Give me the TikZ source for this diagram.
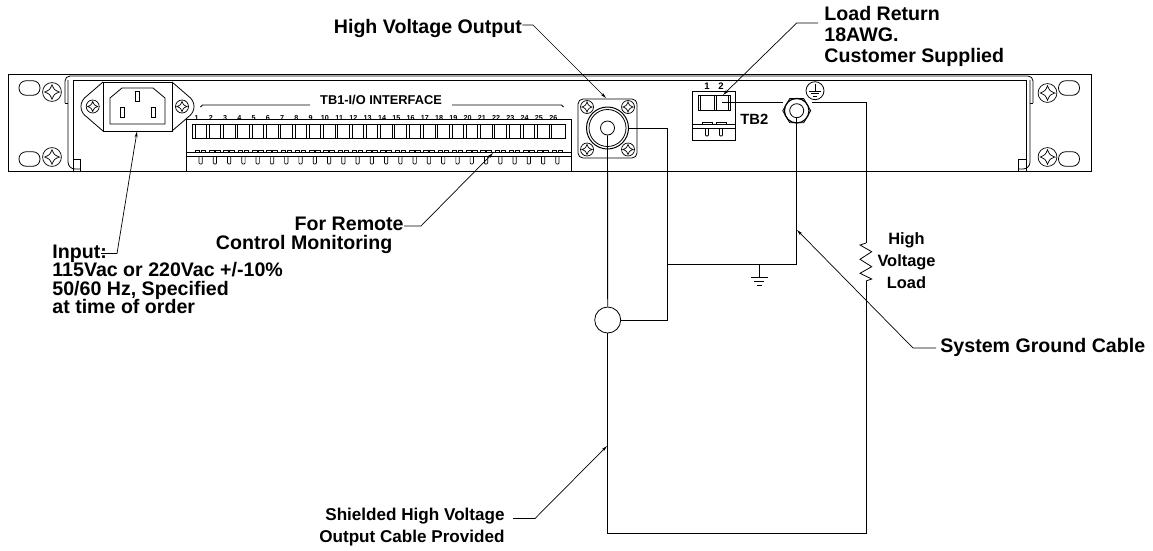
\documentclass[tikz,border=0pt]{standalone}
\usepackage{fontspec}
\setmainfont{Liberation Sans}
\usetikzlibrary{arrows.meta, positioning}

\tikzset{
    calloutText/.style={font=\fontsize{19.6}{21}\selectfont\bfseries, inner sep=0pt, align=left},
    wire/.style={line width=0.9pt},
    leader/.style={line width=0.7pt},
    screwhead/.pic={
        \draw[line width=0.7pt] (0,0) circle (6.5);
        \draw[line width=0.7pt] (5,0) .. controls (1.5,1.5) .. (0,5) .. controls (-1.5,1.5) .. (-5,0)
            .. controls (-1.5,-1.5) .. (0,-5) .. controls (1.5,-1.5) .. cycle;
    }
}

\begin{document}
\begin{tikzpicture}[x=1pt, y=-1pt, line width=0.8pt, >={Stealth[length=6pt,width=3pt]}]
    \useasboundingbox (0,0) rectangle (1153,550);

    % Rack panel and handles
    \draw[line width=1pt] (8,74.5) rectangle (1091,171.5);
    \draw[rounded corners=5pt] (65,103) -- (65,76) -- (1033,76) -- (1033,103);
    \draw (65,103) -- (68,103);
    \draw (1033,103) -- (1030,103);
    \draw (73,171) -- (73,80) -- (1026,80) -- (1026,171);
    \draw[rounded corners=7pt] (68,80) -- (68,169) -- (80,169);
    \draw[rounded corners=7pt] (1030,80) -- (1030,169) -- (1018,169);
    \draw (73,159) -- (80,159) -- (80,171);
    \draw (1026,159) -- (1018,159) -- (1018,171);

    % Mounting holes and screws
    \foreach \holeName/\holeX/\holeY in {holeA/29.5/88, holeB/29.5/159, holeC/1069/88, holeD/1069/159}
        \node (\holeName) [draw, rectangle, rounded corners=7pt, minimum width=21pt, minimum height=14.5pt, inner sep=0pt] at (\holeX,\holeY) {};
    \foreach \screwX/\screwY in {52/92, 52/157, 1047.5/93, 1047.5/157}
        \pic[scale=1.45] at (\screwX,\screwY) {screwhead};

    % Power inlet
    \draw (103,82) rectangle (172,131);
    \draw[rounded corners=5pt] (103,82) -- (81,101) -- (81,112) -- (103,131);
    \draw[rounded corners=5pt] (172,82) -- (194,101) -- (194,112) -- (172,131);
    \draw (110,124) -- (110,98) -- (122,88) -- (153,88) -- (165,98) -- (165,124) -- cycle;
    \draw (135,91) rectangle (139,101);
    \draw (120,107) rectangle (124,117);
    \draw (151,107) rectangle (155,117);
    \pic at (92.7,106.5) {screwhead};
    \pic at (182,106.5) {screwhead};
    \coordinate (inletBottom) at (137,131.5);

    % TB1 terminal block
    \draw (186.7,171) -- (186.7,119.5) -- (571,119.5) -- (571,171);
    \draw (186.7,152) -- (571,152);
    \draw (186.7,156) -- (571,156);
    \draw (192,124) rectangle (565,138);
    \foreach \i [evaluate=\i as \cellX using 192.3+14.27*\i, evaluate=\i as \labelNum using int(\i+1)] in {0,...,25} {
        \draw[line width=0.7pt] (\cellX,124) -- (\cellX,138);
        \draw[line width=0.7pt] (\cellX+2.7,124) -- (\cellX+2.7,138);
        \draw[line width=0.7pt] (\cellX+3,152) -- (\cellX+3,150.3) -- (\cellX+7.5,150.3) -- (\cellX+7.5,152);
        \draw[line width=0.7pt] (\cellX+9,152) -- (\cellX+9,150.3) -- (\cellX+13.5,150.3) -- (\cellX+13.5,152);
        \draw[line width=0.7pt, rounded corners=1pt] (\cellX+6.7,156) -- (\cellX+6.7,164) -- (\cellX+10,164) -- (\cellX+10,156);
        \node (tbNum\labelNum) [font=\fontsize{7.2}{8}\selectfont\bfseries, inner sep=0.5pt] at (196.5+14.27*\i,118) {\labelNum};
    }
    \node (tbOneTitle) [font=\fontsize{12.8}{14}\selectfont\bfseries, inner sep=0pt] at (381,100) {TB1-I/O INTERFACE};
    \draw (200.5,107) -- (202.5,105) -- (310,105);
    \draw (452,105) -- (561.5,105) -- (563.5,107);

    % High voltage connector
    \draw[rounded corners=5pt] (578,99) rectangle (637,158);
    \node (bncCenter) [draw, circle, minimum size=14pt, inner sep=0pt] at (607.5,128) {};
    \node (bncRing) [draw, circle, line width=1pt, minimum size=42pt, inner sep=0pt] at (607.5,128) {};
    \draw (607.5,128) circle (18.5);
    \foreach \screwX/\screwY in {587/107, 628/107, 587/149.5, 628/149.5}
        \pic at (\screwX,\screwY) {screwhead};

    % TB2 terminal block
    \draw (692.7,91) rectangle (735.7,140.7);
    \draw (698,95.7) rectangle (730.7,110);
    \foreach \cellX in {700.7, 714, 716.7, 728}
        \draw (\cellX,95.7) -- (\cellX,110);
    \draw (692.7,124) -- (735.7,124);
    \draw (692.7,128.3) -- (735.7,128.3);
    \draw (702,124) -- (702,122) -- (712,122) -- (712,124);
    \draw (716,124) -- (716,122) -- (726,122) -- (726,124);
    \draw[rounded corners=1pt] (705.5,128.3) -- (705.5,136) -- (708.5,136) -- (708.5,128.3);
    \draw[rounded corners=1pt] (719.5,128.3) -- (719.5,136) -- (722.5,136) -- (722.5,128.3);
    \node (tbTwoA) [font=\fontsize{9.5}{10}\selectfont\bfseries, inner sep=0pt] at (707,86) {1};
    \node (tbTwoB) [font=\fontsize{9.5}{10}\selectfont\bfseries, inner sep=0pt] at (721,86) {2};
    \node (tbTwoName) [font=\fontsize{14.8}{16}\selectfont\bfseries, inner sep=0pt, anchor=west] at (740,119) {TB2};
    \coordinate (tbTwoWire) at (722,102.7);

    % Ground stud and earth mark
    \node (stud) [draw, circle, minimum size=14pt, inner sep=0pt] at (796.7,110.7) {};
    \draw[line width=1.2pt] (796.7,110.7) circle (12.3);
    \draw (810.7,110.7) -- (803.7,98.6) -- (789.7,98.6) -- (782.7,110.7) -- (789.7,122.8) -- (803.7,122.8) -- cycle;
    \node (earthMark) [draw, circle, minimum size=18pt, inner sep=0pt] at (815,90.7) {};
    \draw (815,84) -- (815,91);
    \draw (809,91) -- (821,91);
    \draw (811,93.5) -- (819,93.5);
    \draw (813,96) -- (817,96);

    % Coordinates for the wiring
    \coordinate (loadTop) at (866,102.7);
    \coordinate (resTop) at (866,243);
    \coordinate (resBot) at (866,281);
    \coordinate (shieldDrop) at (667,128);
    \coordinate (groundJoin) at (667,264.3);
    \coordinate (groundDrop) at (759.3,264.3);
    \coordinate (groundEnd) at (759.3,277);
    \coordinate (cableBottom) at (607.7,533);
    \node (teeRing) [draw, circle, minimum size=26pt, inner sep=0pt] at (607.7,320) {};

    % Wiring
    \draw[wire] (bncCenter.south) -- (teeRing.north);
    \draw[wire] (teeRing.south) -- (cableBottom) -| (resBot);
    \draw[wire] (bncRing.east) -- (shieldDrop) -- (groundJoin);
    \draw[wire] (teeRing.east) -| (groundJoin);
    \draw[wire] (groundJoin) -- (groundDrop);
    \draw[wire] (groundDrop) -- (groundEnd);
    \draw[wire] (groundDrop) -| (stud.south);
    \draw[wire] (tbTwoWire) -- (783.4,102.7);
    \draw[wire] (812,102.7) -- (loadTop) -- (resTop);
    \draw (resTop) -- (860,245) -- (871.7,251.7) -- (860,259.3) -- (871.7,266.7) -- (860,273.3) -- (871.7,279) -- (resBot);

    % Earth symbol below the shield join
    \draw (750.8,277) -- (767.8,277);
    \draw (754.3,281.7) -- (764.3,281.7);
    \draw (756.8,285.5) -- (761.8,285.5);

    % Callouts
    \node (hvOutput) [calloutText, anchor=west] at (333.5,28) {High Voltage Output};
    \node (loadReturn) [calloutText, anchor=west] at (824,36) {Load Return\\18AWG.\\Customer Supplied};
    \node (inputNote) [calloutText, anchor=west, font=\fontsize{19.6}{18.5}\selectfont\bfseries] at (52,279.5) {Input:\\115Vac or 220Vac +/-10\%\\50/60 Hz, Specified\\at time of order};
    \node (remoteTop) [calloutText, anchor=east] at (404,224) {For Remote};
    \node (remoteBottom) [calloutText, anchor=east] at (392.7,244) {Control Monitoring};
    \node (shieldNote) [calloutText, anchor=east, align=right, font=\fontsize{17.1}{21.5}\selectfont\bfseries] at (505,527) {Shielded High Voltage\\Output Cable Provided};
    \node (groundCable) [calloutText, anchor=west] at (940,347.7) {System Ground Cable};
    \node (hvLoad) [calloutText, align=center, font=\fontsize{16.4}{22}\selectfont\bfseries] at (906.5,261) {High\\Voltage\\Load};

    % Leader ends and bends
    \coordinate (hvBend) at (533,25);
    \coordinate (hvTip) at (606,98);
    \coordinate (loadBendA) at (818,23);
    \coordinate (loadBendB) at (796.7,23);
    \coordinate (loadTip) at (723,95);
    \coordinate (inputStart) at (101,253.5);
    \coordinate (inputBend) at (117,253.5);
    \coordinate (remoteBend) at (421,226);
    \coordinate (remoteTip) at (493,153);
    \coordinate (shieldStart) at (513,518.5);
    \coordinate (shieldBend) at (535,518.5);
    \coordinate (shieldTip) at (607,446);
    \coordinate (groundStart) at (936,348);
    \coordinate (groundBend) at (913,348);
    \coordinate (groundTip) at (797,230);

    % Leaders
    \draw[leader, ->] (hvOutput.east |- hvBend) -- (hvBend) -- (hvTip);
    \draw[leader, ->] (loadBendA) -- (loadBendB) -- (loadTip);
    \draw[leader, ->] (inputStart) -- (inputBend) -- (inletBottom);
    \draw[leader, ->] (remoteTop.east |- remoteBend) -- (remoteBend) -- (remoteTip);
    \draw[leader, ->] (shieldStart) -- (shieldBend) -- (shieldTip);
    \draw[leader, ->] (groundStart) -- (groundBend) -- (groundTip);

\end{tikzpicture}
\end{document}
